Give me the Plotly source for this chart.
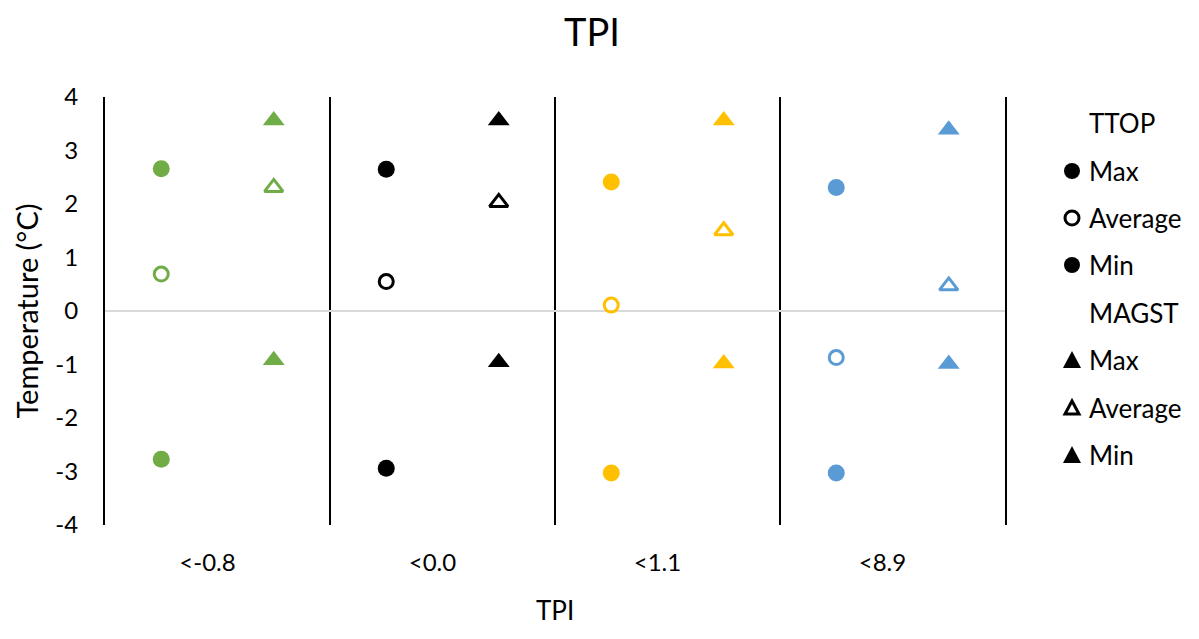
import plotly.graph_objects as go

categories = ["<-0.8", "<0.0", "<1.1", "<8.9"]
colors = ["#70AD47", "#000000", "#FFC000", "#5B9BD5"]

ttop_max = [2.66, 2.65, 2.41, 2.31]
ttop_avg = [0.69, 0.55, 0.11, -0.87]
ttop_min = [-2.77, -2.94, -3.03, -3.03]
magst_max = [3.56, 3.56, 3.56, 3.39]
magst_avg = [2.31, 2.03, 1.50, 0.47]
magst_min = [-0.92, -0.96, -0.98, -0.99]

yticks = [-4, -3, -2, -1, 0, 1, 2, 3, 4]

FONT = "Lato"
# page body has an 8px margin; figure is sized so that page fits 1199x639
W, H = 1183, 623
L, T = 97, 89
PW, PH = 900, 428
R = W - L - PW
B = H - T - PH

fig = go.Figure()

series = [
    ("TTOP", "Max", ttop_max, "circle", True),
    ("TTOP", "Average", ttop_avg, "circle-open", False),
    ("TTOP", "Min", ttop_min, "circle", True),
    ("MAGST", "Max", magst_max, "triangle-up", True),
    ("MAGST", "Average", magst_avg, "triangle-up-open", False),
    ("MAGST", "Min", magst_min, "triangle-up", True),
]

for grp, name, vals, sym, filled in series:
    size = 17 if "circle" in sym else 19
    fig.add_trace(go.Scatter(
        x=categories, y=vals, mode="markers", name=f"{grp} {name}",
        offsetgroup=grp, showlegend=False,
        marker=dict(symbol=sym, size=size if filled else size - 3, color=colors,
                    line=dict(width=3 if not filled else 0, color=colors)),
    ))

fig.update_layout(
    width=W, height=H,
    margin=dict(l=L, r=R, t=T, b=B),
    paper_bgcolor="white", plot_bgcolor="white",
    scattermode="group", scattergap=0,
    font=dict(family=FONT, color="#000000"),
    title=dict(text="TPI", x=584 / W, xref="container", xanchor="center",
               y=1 - 25 / H, yref="container", yanchor="middle",
               font=dict(size=38, family=FONT, color="#000000")),
)

fig.update_xaxes(
    type="category", range=[-0.5, 3.5], automargin=False,
    tickson="boundaries", showgrid=True, gridcolor="#000000", gridwidth=2,
    ticks="", showline=False, zeroline=False,
    tickfont=dict(size=24, family=FONT, color="#000000"),
    ticklabelstandoff=21, ticklabelshift=-10,
)
fig.update_yaxes(
    range=[-4, 4], tickvals=yticks, ticktext=[str(v) for v in yticks],
    automargin=False,
    showgrid=False, zeroline=True, zerolinecolor="#D9D9D9", zerolinewidth=2,
    showline=True, mirror=True, linecolor="#000000", linewidth=2,
    ticks="", ticklabelstandoff=20,
    tickfont=dict(size=24, family=FONT, color="#000000"),
    title=dict(text="Temperature (°C)", font=dict(size=29, family=FONT, color="#000000"), standoff=8),
)

# custom legend (positions relative to plot area)
def px_to_paper_x(px):
    return (px - 105) / PW

def py_to_paper_y(py):
    return (525 - py) / PH

legend_rows = [
    ("TTOP", None, 123),
    ("Max", "circle", 171),
    ("Average", "circle-open", 218),
    ("Min", "circle", 265),
    ("MAGST", None, 313),
    ("Max", "tri", 360),
    ("Average", "tri-open", 408),
    ("Min", "tri", 455),
]
mx = px_to_paper_x(1072)
tx = px_to_paper_x(1087)
shapes = []
annots = []
for label, kind, py in legend_rows:
    yy = py_to_paper_y(py)
    annots.append(dict(text=label, x=tx, y=yy, xref="paper", yref="paper",
                       xanchor="left", yanchor="middle", showarrow=False,
                       font=dict(size=26, family=FONT, color="#000000")))
    if kind is None:
        continue
    if kind.startswith("circle"):
        open_ = kind.endswith("open")
        r = 7 if open_ else 8
        shapes.append(dict(type="circle", xref="paper", yref="paper",
                           xsizemode="pixel", ysizemode="pixel",
                           xanchor=mx, yanchor=yy, x0=-r, x1=r, y0=-r, y1=r,
                           fillcolor="white" if open_ else "black",
                           line=dict(color="black", width=3 if open_ else 0)))
    else:
        open_ = kind.endswith("open")
        path = "M -7,-6 L 7,-6 L 0,7 Z" if open_ else "M -9,-8 L 9,-8 L 0,9 Z"
        shapes.append(dict(type="path", xref="paper", yref="paper",
                           xsizemode="pixel", ysizemode="pixel",
                           xanchor=mx, yanchor=yy, path=path,
                           fillcolor="white" if open_ else "black",
                           line=dict(color="black", width=3 if open_ else 0)))

# x-axis title
annots.append(dict(text="TPI", x=0.5, y=(525 - 610) / PH, xref="paper", yref="paper",
                   xanchor="center", yanchor="middle", showarrow=False,
                   font=dict(size=26, family=FONT, color="#000000")))

fig.update_layout(shapes=shapes, annotations=annots)

fig.write_html("out.html")
